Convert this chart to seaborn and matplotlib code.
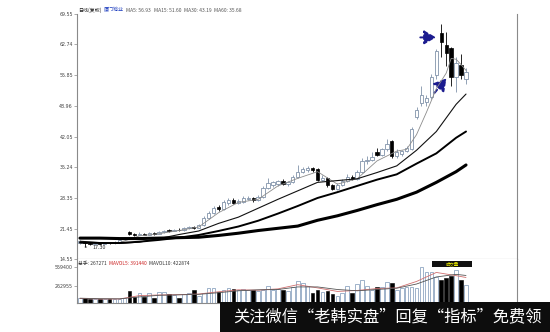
import numpy as np
import pandas as pd
import matplotlib
matplotlib.use('Agg')
import matplotlib.pyplot as plt
import seaborn as sns
from matplotlib.patches import Rectangle

sns.set_theme(style='white')
plt.rcParams['font.family'] = ['Noto Sans CJK SC', 'DejaVu Sans']
plt.rcParams['axes.unicode_minus'] = False

# ---------------- data ----------------
opens = [18.3, 18.5, 18.1, 18.0, 18.2, 18.0, 18.3, 18.1, 18.4, 19.0,
         20.6, 20.2, 20.0, 20.3, 20.1, 20.4, 20.3, 20.6, 21.2, 20.9,
         21.2, 21.1, 21.5, 21.8, 21.6, 22.3, 23.8, 25.0, 26.2, 25.8,
         27.2, 27.9, 27.2, 27.5, 28.0, 28.4, 27.8, 28.6, 30.6, 31.2,
         31.5, 32.0, 31.4, 31.9, 33.0, 34.2, 34.6, 35.0, 34.8, 32.4,
         32.8, 31.2, 30.4, 31.2, 32.2, 33.0, 32.6, 34.2, 36.5, 36.9,
         38.6, 38.0, 39.2, 41.0, 37.6, 38.2, 38.9, 39.3, 46.4, 49.5,
         49.8, 51.0, 55.8, 65.3, 62.5, 61.9, 55.4, 58.1, 55.0]
closes = [18.6, 18.2, 18.0, 18.2, 18.0, 18.3, 18.1, 18.4, 18.8, 19.4,
          20.2, 20.0, 20.3, 20.1, 20.4, 20.3, 20.6, 21.0, 20.9, 21.2,
          21.1, 21.5, 21.8, 21.6, 22.3, 23.9, 25.0, 26.0, 25.8, 27.3,
          27.8, 27.2, 27.6, 28.3, 28.4, 27.8, 28.6, 30.6, 31.6, 31.8,
          32.0, 31.4, 31.9, 33.0, 34.2, 34.8, 35.0, 34.6, 32.4, 32.8,
          31.2, 30.4, 31.2, 32.2, 33.0, 32.6, 34.2, 36.6, 36.9, 37.4,
          38.0, 39.2, 40.4, 37.6, 38.6, 38.9, 39.6, 43.8, 48.0, 51.5,
          50.8, 55.5, 61.2, 63.2, 60.8, 55.4, 58.5, 55.8, 56.5]
highs = [18.9, 18.7, 18.4, 18.4, 18.3, 18.5, 18.4, 18.6, 19.0, 19.6,
         21.0, 20.4, 20.6, 20.5, 20.6, 20.7, 20.8, 21.2, 21.3, 21.4,
         21.5, 21.7, 22.0, 22.1, 22.5, 24.2, 25.4, 26.5, 26.8, 27.8,
         28.4, 28.2, 28.0, 28.8, 28.8, 28.6, 29.0, 31.0, 32.8, 32.2,
         32.4, 32.5, 32.2, 33.5, 35.6, 35.2, 35.5, 35.2, 35.0, 33.4,
         33.0, 31.5, 31.6, 32.6, 33.6, 33.4, 34.6, 37.3, 37.6, 38.6,
         39.4, 39.6, 41.6, 41.4, 39.2, 39.0, 40.0, 44.2, 48.6, 53.5,
         51.5, 56.2, 61.8, 67.2, 65.5, 62.2, 60.0, 60.5, 57.5]
lows = [18.0, 17.3, 17.8, 17.8, 17.9, 17.9, 18.0, 18.0, 18.3, 18.9,
        20.0, 19.8, 19.9, 20.0, 20.0, 20.1, 20.2, 20.5, 20.7, 20.8,
        21.0, 21.0, 21.3, 21.4, 21.5, 22.1, 23.5, 24.6, 25.4, 25.6,
        26.8, 26.9, 26.9, 27.2, 27.8, 27.5, 27.6, 28.4, 30.3, 30.8,
        31.0, 31.2, 31.0, 31.7, 32.8, 34.0, 34.2, 34.2, 32.2, 32.0,
        30.8, 30.0, 30.2, 31.0, 31.9, 32.3, 32.4, 34.0, 36.0, 36.6,
        37.6, 37.8, 38.9, 37.2, 37.2, 37.8, 38.6, 39.0, 46.0, 49.0,
        49.0, 50.5, 55.0, 60.0, 58.0, 53.5, 52.0, 55.0, 53.8]
volumes = [68000, 68000, 62000, 60000, 58000, 55000, 50000, 52000, 58000, 80000,
           180000, 95000, 150000, 85000, 145000, 80000, 160000, 160000, 140000, 120000,
           80000, 140000, 150000, 190000, 110000, 150000, 230000, 230000, 165000, 200000,
           230000, 210000, 200000, 210000, 200000, 190000, 180000, 200000, 265000, 190000,
           205000, 195000, 180000, 240000, 330000, 300000, 260000, 155000, 200000, 160000,
           185000, 130000, 100000, 150000, 265000, 155000, 290000, 345000, 265000, 200000,
           240000, 250000, 320000, 300000, 190000, 230000, 240000, 240000, 230000, 555000,
           475000, 470000, 400000, 360000, 390000, 420000, 510000, 350000, 267271]

ma_idx = [0, 4, 8, 12, 16, 20, 24, 28, 32, 36, 40, 44, 48, 52, 56, 60, 64, 68, 72, 76, 78]
ma15 = [18.6, 18.3, 18.1, 18.4, 19.2, 20.1, 20.9, 22.6, 24.0, 26.0, 28.0, 29.9, 31.8, 32.2, 32.6, 34.0, 35.5, 39.0, 43.2, 49.3, 51.6]
ma30 = [18.3, 18.2, 18.2, 18.5, 18.9, 19.4, 20.0, 20.9, 21.9, 23.2, 24.8, 26.5, 28.3, 29.6, 31.0, 32.4, 33.6, 36.0, 38.3, 41.8, 43.2]
ma60 = [19.3, 19.3, 19.2, 19.2, 19.3, 19.4, 19.5, 19.9, 20.4, 21.0, 21.5, 22.0, 23.3, 24.3, 25.5, 26.8, 28.0, 29.6, 31.8, 34.2, 35.7]
ma5_idx = [0, 4, 8, 12, 16, 20, 24, 28, 32, 36, 40, 44, 48, 52, 56, 60, 64, 66, 68, 70, 72, 74, 75, 76, 77, 78]
ma5 = [18.5, 18.2, 18.3, 19.8, 20.3, 21.0, 21.8, 25.0, 27.3, 28.0, 31.0, 32.7, 34.2, 31.4, 32.6, 36.6, 38.8, 39.2, 42.5, 47.5, 52.8, 56.3, 59.6, 59.4, 58.2, 56.9]
mavol5 = [66000, 58000, 58000, 110000, 120000, 125000, 135000, 170000, 200000, 195000, 215000, 280000, 230000, 175000, 190000, 220000, 230000, 330000, 470000, 420000, 391440]
mavol10 = [70000, 62000, 60000, 90000, 115000, 122000, 130000, 155000, 185000, 200000, 205000, 245000, 245000, 205000, 185000, 205000, 225000, 290000, 400000, 440000, 422874]

price_ticks = [14.55, 21.45, 28.35, 35.24, 42.05, 48.96, 55.85, 62.74, 69.55]
vol_ticks = [262955, 559400]
vol_tick_labels = ['262955', '559400']
low_label = '17.30'

header_parts = [('日线(复权)', '#222222'), ('厦门钨业', '#1f3fbf'),
                ('MA5: 56.93', '#555555'), ('MA15: 51.60', '#555555'),
                ('MA30: 43.19', '#555555'), ('MA60: 35.68', '#555555')]
vol_header_parts = [('总手: 267271', '#333333'), ('MAVOL5: 391440', '#cc2222'),
                    ('MAVOL10: 422874', '#333333')]
banner_text = '关注微信“老韩实盘”回复“指标”免费领'

# ---------------- figure ----------------
W, H = 550, 332
fig = plt.figure(figsize=(W / 100, H / 100), dpi=100)
fig.patch.set_facecolor('white')
ax = fig.add_axes([77 / W, 1 - 259.3 / H, 440 / W, (259.3 - 14) / H])
axv = fig.add_axes([77 / W, 1 - 302.7 / H, 440 / W, (302.7 - 259.3) / H])

df = pd.DataFrame({'i': np.arange(len(closes)), 'open': opens, 'close': closes,
                   'high': highs, 'low': lows, 'vol': volumes})
df['up'] = df['close'] >= df['open']

up_col = '#8193aa'
down_col = '#000000'
bw = 0.68

# wicks
for up, sub in df.groupby('up'):
    ax.vlines(sub['i'], sub['low'], sub['high'], color=up_col if up else down_col,
              lw=0.6, zorder=2)
# bodies
upd = df[df['up']]
dnd = df[~df['up']]
ax.bar(upd['i'], (upd['close'] - upd['open']).clip(lower=0.12), bottom=upd['open'],
       width=bw, facecolor='white', edgecolor=up_col, linewidth=0.6, zorder=3)
ax.bar(dnd['i'], (dnd['open'] - dnd['close']).clip(lower=0.12), bottom=dnd['close'],
       width=bw, facecolor=down_col, edgecolor=down_col, linewidth=0.5, zorder=3)

# moving averages
sns.lineplot(x=ma5_idx, y=ma5, ax=ax, color='#8c8c8c', lw=0.6, zorder=4)
sns.lineplot(x=ma_idx, y=ma15, ax=ax, color='#111111', lw=0.8, zorder=4)
sns.lineplot(x=ma_idx, y=ma30, ax=ax, color='#000000', lw=1.4, zorder=4)
sns.lineplot(x=ma_idx, y=ma60, ax=ax, color='#000000', lw=2.2, zorder=4)

xmin, xmax = -0.6, 88.3
ax.set_xlim(xmin, xmax)
ax.set_ylim(price_ticks[0], price_ticks[-1])
ax.set_yticks(price_ticks)
ax.set_yticklabels([f'{t:.2f}' for t in price_ticks], fontsize=3.4,
                   color='#444444', family='DejaVu Sans')
ax.set_xticks([])
ax.tick_params(axis='y', length=2, width=0.5, color='#888888', pad=1, left=True)
ax.spines['top'].set_visible(False)
for s in ['left', 'right', 'bottom']:
    ax.spines[s].set_color('#8a8a8a')
    ax.spines[s].set_linewidth(0.8)
ax.set_xlabel('')
ax.set_ylabel('')

# low marker
ax.annotate(low_label, xy=(1, lows[1]), xytext=(2.6, lows[1]), fontsize=3.4,
            va='center', color='#222222', family='DejaVu Sans',
            arrowprops=dict(arrowstyle='-', lw=0.5, color='#222222'))

# arrows
arrow_col = '#1c1c8f'
ax.annotate('', xy=(72.5, 64.3), xytext=(68.2, 64.3),
            arrowprops=dict(arrowstyle='-|>,head_length=0.6,head_width=0.35',
                            color=arrow_col, lw=1.4, linestyle=(0, (2, 1.5))))
ax.annotate('', xy=(74.4, 55.6), xytext=(71.3, 51.4),
            arrowprops=dict(arrowstyle='-|>,head_length=0.6,head_width=0.35',
                            color=arrow_col, lw=1.4, linestyle=(0, (2, 1.5))))

# volume panel
vu = df[df['up']]
vd = df[~df['up']]
axv.bar(vu['i'], vu['vol'], width=0.74, facecolor='white', edgecolor='#8fa6c2',
        linewidth=0.6, zorder=2)
axv.bar(vd['i'], vd['vol'], width=0.74, facecolor='black', edgecolor='black',
        linewidth=0.4, zorder=2)
sns.lineplot(x=ma_idx, y=mavol5, ax=axv, color='#d07070', lw=0.6, zorder=3)
sns.lineplot(x=ma_idx, y=mavol10, ax=axv, color='#555555', lw=0.6, zorder=3)
axv.set_xlim(xmin, xmax)
axv.set_ylim(0, 674000)
axv.set_yticks(vol_ticks)
axv.set_yticklabels(vol_tick_labels, fontsize=3.4, color='#444444', family='DejaVu Sans')
axv.set_xticks([])
axv.tick_params(axis='y', length=2, width=0.5, color='#888888', pad=1, left=True)
axv.spines['top'].set_visible(False)
for s in ['left', 'right', 'bottom']:
    axv.spines[s].set_color('#8a8a8a')
    axv.spines[s].set_linewidth(0.8)
axv.set_xlabel('')
axv.set_ylabel('')

# headers
renderer = fig.canvas.get_renderer()


def seq_text(parts, x0, y, size, gap):
    x = x0
    for s, c in parts:
        t = fig.text(x, y, s, fontsize=size, color=c, va='center', ha='left')
        bb = t.get_window_extent(renderer)
        x = bb.x1 / W + gap / W


seq_text(header_parts, 78 / W, 1 - 10 / H, 3.6, 2.5)
seq_text(vol_header_parts, 78 / W, 1 - 263.5 / H, 3.5, 2.5)

# 成交量 tag
fig.patches.append(Rectangle((432 / W, 1 - 266.5 / H), 40 / W, 6 / H,
                             transform=fig.transFigure, facecolor='#111111',
                             edgecolor='none', zorder=5))
fig.text(452 / W, 1 - 263.5 / H, '成交量', fontsize=3.2, color='#e6e600',
         ha='center', va='center', zorder=6)

# banner
fig.patches.append(Rectangle((220 / W, 0), 330 / W, 30 / H, transform=fig.transFigure,
                             facecolor='#0d0d0d', edgecolor='none', zorder=8))
fig.text(387 / W, 1 - 317 / H, banner_text, fontsize=11.7, color='white',
         ha='center', va='center', zorder=9)

fig.savefig('out.png', dpi=100, facecolor='white')
